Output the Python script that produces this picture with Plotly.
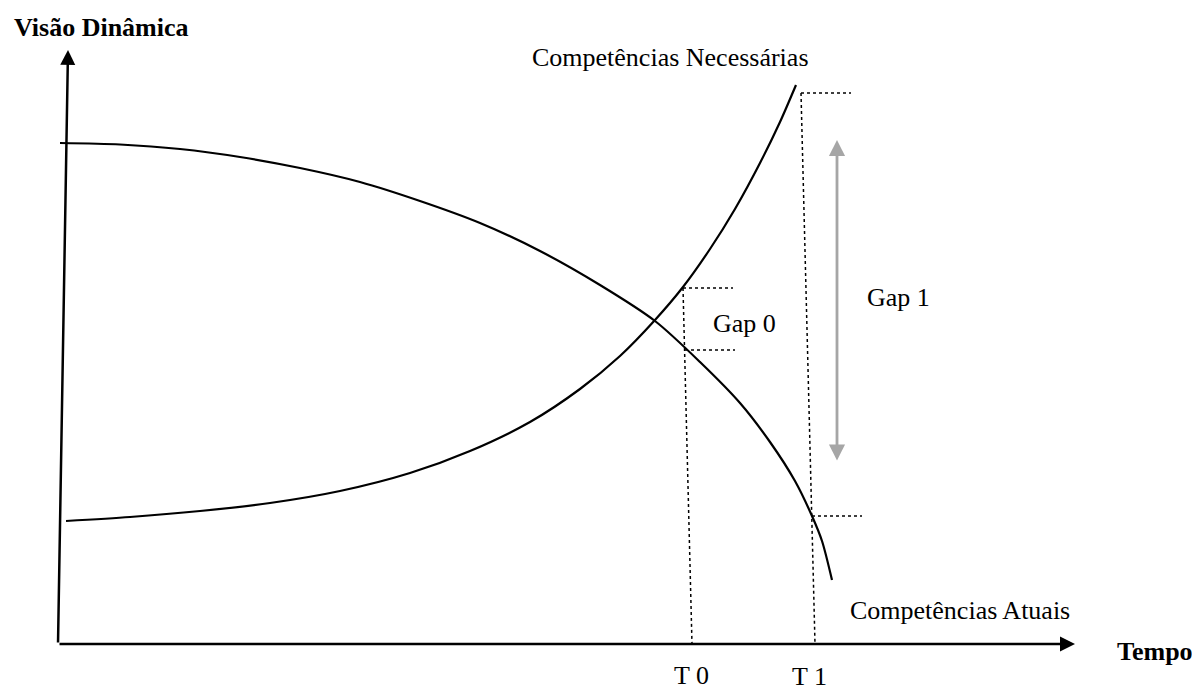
import plotly.graph_objects as go

# Chart units: origin at the axes corner
atuais_x = [2, 62, 122, 182, 242, 302, 362, 422, 482, 542, 597, 642, 682, 712, 737, 754, 764, 774]
atuais_y = [501, 499.5, 495, 487, 476, 462, 443, 421, 393, 359, 323, 282, 241, 202, 163, 128, 103, 64]

necess_x = [8, 72, 142, 212, 282, 352, 412, 472, 522, 562, 597, 625, 652, 677, 702, 722, 738]
necess_y = [123, 127, 133, 141, 153, 171, 193, 222, 255, 288, 324, 357, 395, 435, 481, 522, 559]

# T0 / T1 guide lines (time position at curve and at axis)
t0_top = [625, 356]
t0_bot = [634, 0]
t1_top = [743, 551]
t1_bot = [757, 0]
gap0_low = [627, 294]
gap1_low = [754, 128]
gap_len = 50

gap1_arrow_x = 779
gap1_arrow_y = [504, 182]

FONT = "Liberation Serif"
FS = 26
# the page adds an 8px body margin; shift ranges so the drawing lands where intended
OFF = 8

fig = go.Figure()

line_style = dict(color="black", width=2.2, shape="spline", smoothing=0.8)
fig.add_trace(go.Scatter(x=atuais_x, y=atuais_y, mode="lines", line=line_style, hoverinfo="skip"))
fig.add_trace(go.Scatter(x=necess_x, y=necess_y, mode="lines", line=line_style, hoverinfo="skip"))

dot = dict(color="black", width=1.5, dash="dot")
fig.add_trace(go.Scatter(x=[t0_top[0], t0_bot[0]], y=[t0_top[1], t0_bot[1]], mode="lines", line=dot, hoverinfo="skip"))
fig.add_trace(go.Scatter(x=[t1_top[0], t1_bot[0]], y=[t1_top[1], t1_bot[1]], mode="lines", line=dot, hoverinfo="skip"))
for p in [t0_top, gap0_low, t1_top, gap1_low]:
    fig.add_trace(go.Scatter(x=[p[0], p[0] + gap_len], y=[p[1], p[1]], mode="lines", line=dot, hoverinfo="skip"))

# axes with arrows
fig.add_annotation(x=1017, y=0, ax=0, ay=0, xref="x", yref="y", axref="x", ayref="y",
                   text="", showarrow=True, arrowhead=2, arrowsize=1.2, arrowwidth=2.5, arrowcolor="black")
fig.add_annotation(x=10, y=594, ax=0, ay=0, xref="x", yref="y", axref="x", ayref="y",
                   text="", showarrow=True, arrowhead=2, arrowsize=1.2, arrowwidth=2.5, arrowcolor="black")
# gap 1 double arrow
fig.add_annotation(x=gap1_arrow_x, y=gap1_arrow_y[0], ax=gap1_arrow_x, ay=gap1_arrow_y[1],
                   xref="x", yref="y", axref="x", ayref="y", text="", showarrow=True,
                   arrowhead=2, startarrowhead=2, arrowside="end+start",
                   arrowsize=1.15, startarrowsize=1.15, arrowwidth=2.8, arrowcolor="#a6a6a6")

labels = [
    ("<b>Visão Dinâmica</b>", -46, 617),
    ("Competências Necessárias", 472, 587),
    ("Gap 0", 653, 321),
    ("Gap 1", 807, 347),
    ("Competências Atuais", 790, 34),
    ("<b>Tempo</b>", 1057, -7),
    ("T 0", 614, -31),
    ("T 1", 732, -32),
]
for txt, x, y in labels:
    fig.add_annotation(x=x, y=y, xref="x", yref="y", text=txt, showarrow=False,
                       xanchor="left", yanchor="middle",
                       font=dict(family=FONT, size=FS, color="black"))

fig.update_layout(
    width=1200, height=690,
    margin=dict(l=0, r=0, t=0, b=0),
    paper_bgcolor="white", plot_bgcolor="white",
    showlegend=False,
    xaxis=dict(range=[-58 + OFF, 1142 + OFF], visible=False, fixedrange=True),
    yaxis=dict(range=[-46 - OFF, 644 - OFF], visible=False, fixedrange=True),
)

fig.write_html("out.html", config={"displayModeBar": False})
